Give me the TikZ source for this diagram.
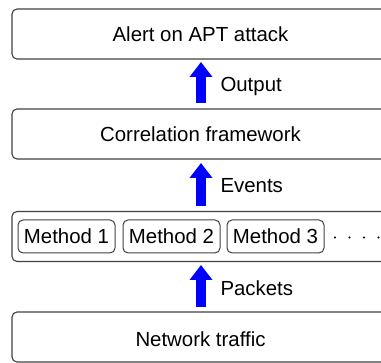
\documentclass[tikz,border=0pt]{standalone}
\usepackage{fontspec}
\setmainfont{Liberation Sans}
\usetikzlibrary{arrows.meta}
\definecolor{edge}{HTML}{404040}
\definecolor{arrowblue}{RGB}{0,0,255}
\begin{document}
\begin{tikzpicture}[x=1pt,y=-1pt,
  txt/.style={font=\fontsize{20.4}{23}\selectfont},
  layer/.style={draw=edge, line width=1.1pt, rounded corners=5pt, minimum width=376pt, minimum height=50pt, inner sep=0pt},
  methodbox/.style={txt, draw=edge, line width=1pt, rounded corners=5pt, minimum width=97pt, minimum height=33pt, inner sep=0pt},
  flow/.style={arrowblue, line width=10pt, -{Triangle[width=22pt,length=15pt]}},
  flowlabel/.style={txt, anchor=west}]
\useasboundingbox (0,0) rectangle (381,363);
\clip (0,0) rectangle (381,363);
\node[layer] (alert) at (200,34) {};
\node[txt] (alerttext) at (200.5,34) {Alert on APT attack};
\node[layer] (corr) at (200,134) {};
\node[txt] (corrtext) at (200.5,134) {Correlation framework};
\node[layer] (methods) at (200,236.5) {};
\node[layer] (net) at (200,337) {};
\node[txt] (nettext) at (200.5,339) {Network traffic};
\node[methodbox] (m1) at (66.5,236.5) {Method 1};
\node[methodbox] (m2) at (171.5,236.5) {Method 2};
\node[methodbox] (m3) at (275.5,236.5) {Method 3};
\foreach \x in {335,349.5,...,381} \fill (\x,237.5) circle (1.1pt);
\coordinate (a1s) at (201,103);
\coordinate (a1e) at (201,62);
\coordinate (a2s) at (201,206);
\coordinate (a2e) at (201,163);
\coordinate (a3s) at (201,307);
\coordinate (a3e) at (201,265);
\draw[flow] (a1s) -- (a1e);
\draw[flow] (a2s) -- (a2e);
\draw[flow] (a3s) -- (a3e);
\node[flowlabel] (l1) at (217,86) {Output};
\node[flowlabel] (l2) at (217,186) {Events};
\node[flowlabel] (l3) at (217,288) {Packets};
\end{tikzpicture}
\end{document}
